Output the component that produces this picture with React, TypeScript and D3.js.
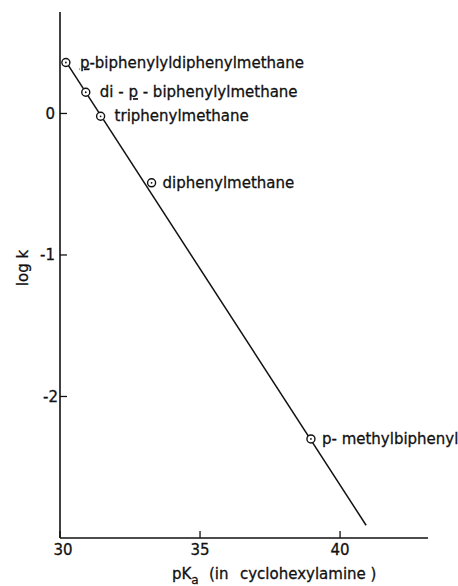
import React from "react";
import * as d3 from "d3";

// Hydrocarbon acidities: exchange rate (log k) against pKa in cyclohexylamine
const compounds = [
  "p-biphenylyldiphenylmethane",
  "di - p - biphenylylmethane",
  "triphenylmethane",
  "diphenylmethane",
  "p- methylbiphenyl",
];
const pKaValues = [30.21, 30.92, 31.45, 33.27, 38.96];
const logKValues = [0.36, 0.15, -0.02, -0.49, -2.3];
// gap between each point and the start of its name
const labelGap = [14, 14, 14, 11, 11];

// Correlation line drawn through the points
const fitPKa = [30.24, 40.93];
const fitLogK = [0.357, -2.91];

const xTicks = [30, 35, 40];
const yTicks = [0, -1, -2];

const W = 458;
const H = 586;
const FONT = "'DejaVu Sans', sans-serif";
const INK = "#111";

const textStyle = {
  fontFamily: FONT,
  fontSize: 15,
  fill: INK,
  stroke: INK,
  strokeWidth: 0.3,
  whiteSpace: "pre" as const,
};

// Renders names where "p" stands for para, printed underlined
function Name({ text, x, y }: { text: string; x: number; y: number }) {
  const parts = text.split(/(\bp(?= ?-))/);
  const underline = text !== "p- methylbiphenyl";
  return (
    <text x={x} y={y} style={textStyle}>
      {parts.map((p, i) =>
        p === "p" && underline ? (
          <tspan key={i} style={{ textDecoration: "underline" }}>
            p
          </tspan>
        ) : (
          <tspan key={i}>{p}</tspan>
        )
      )}
    </text>
  );
}

export default function App() {
  const x = d3.scaleLinear().domain([30, 43.14]).range([60, 428]);
  const y = d3.scaleLinear().domain([-3, 0.717]).range([538, 12]);

  const points = compounds.map((name, i) => ({
    name,
    pKa: pKaValues[i],
    logK: logKValues[i],
    gap: labelGap[i],
  }));
  const fit = fitPKa.map((v, i) => [v, fitLogK[i]] as [number, number]);
  const line = d3
    .line<[number, number]>()
    .x((d) => x(d[0]))
    .y((d) => y(d[1]));

  const [x0, x1] = x.range();
  const [yb, yt] = y.range();

  return (
    <svg
      width={W}
      height={H}
      style={{ position: "absolute", left: 0, top: 0, background: "#fff" }}
    >
      <rect width={W} height={H} fill="#fff" />
      {/* axes */}
      <line x1={x0} y1={yt} x2={x0} y2={yb} stroke={INK} strokeWidth={1.6} />
      <line x1={x0} y1={yb} x2={x1} y2={yb} stroke={INK} strokeWidth={1.6} />

      {xTicks.map((t) => (
        <g key={"x" + t}>
          <line x1={x(t)} x2={x(t)} y1={yb} y2={yb - 7} stroke={INK} strokeWidth={1.3} />
          <text x={x(t) + (t === 30 ? 3 : 0)} y={555} textAnchor="middle" style={textStyle}>
            {t}
          </text>
        </g>
      ))}

      {yTicks.map((t) => (
        <g key={"y" + t}>
          <line x1={x0} x2={x0 + 7} y1={y(t)} y2={y(t)} stroke={INK} strokeWidth={1.3} />
          <text
            x={t === -2 ? 58 : 55}
            y={y(t)}
            dy="0.36em"
            textAnchor="end"
            style={textStyle}
          >
            {t === 0 ? "0" : "-" + Math.abs(t)}
          </text>
        </g>
      ))}

      {/* axis titles */}
      <text transform="translate(28,268) rotate(-90)" textAnchor="middle" style={textStyle}>
        log k
      </text>
      <text x={172} y={579} style={textStyle}>
        pK
        <tspan fontSize={12} dy={5}>
          a
        </tspan>
        <tspan x={209} dy={-5}>
          (in
        </tspan>
        <tspan x={240}>cyclohexylamine )</tspan>
      </text>

      {/* correlation line */}
      <path d={line(fit) ?? ""} fill="none" stroke={INK} strokeWidth={1.5} />

      {/* data points */}
      {points.map((p) => (
        <g key={p.name}>
          <circle
            cx={x(p.pKa)}
            cy={y(p.logK)}
            r={4}
            fill="#fff"
            stroke={INK}
            strokeWidth={1.4}
          />
          <circle cx={x(p.pKa)} cy={y(p.logK)} r={0.9} fill={INK} />
          <Name text={p.name} x={x(p.pKa) + p.gap} y={y(p.logK) + 5} />
        </g>
      ))}
    </svg>
  );
}
